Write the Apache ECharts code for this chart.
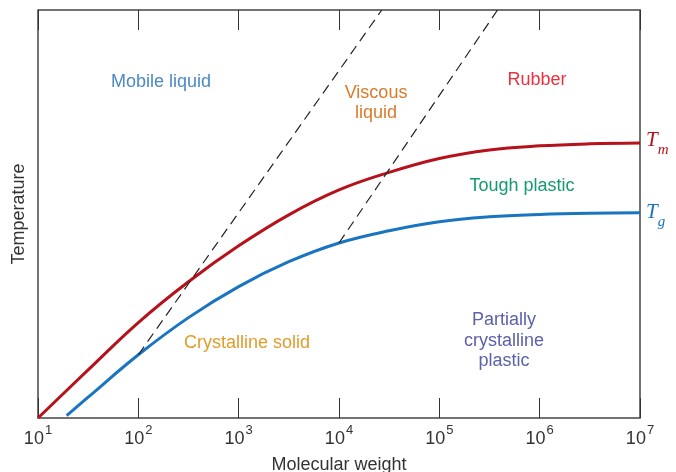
<!DOCTYPE html>
<html><head><meta charset="utf-8">
<script src="https://cdn.jsdelivr.net/npm/echarts@6/dist/echarts.min.js"></script>
<style>html,body{margin:0;padding:0;background:#fff}#c{width:676px;height:472px}</style>
</head><body><div id="c"></div>
<script>
// Melting temperature curve (Tm)
const tmX = [10, 31.6, 100, 316, 1000, 3160, 10000, 31600, 100000, 316000, 1e6, 3.16e6, 1e7];
const tmY = [0, 11.8, 23.4, 33.4, 42.2, 49.8, 55.9, 60.2, 63.6, 65.7, 66.7, 67.2, 67.4];
// Glass transition curve (Tg)
const tgX = [19.3, 31.6, 100, 316, 1000, 3160, 10000, 31600, 100000, 316000, 1e6, 3.16e6, 1e7];
const tgY = [0.6, 5.1, 15.5, 24.6, 32.2, 38.3, 42.9, 45.9, 48.1, 49.3, 49.9, 50.2, 50.3];
// Dashed boundaries
const bound1X = [100, 26700];
const bound1Y = [15.5, 100];
const bound2X = [10000, 380000];
const bound2Y = [42.9, 100];
// Region labels
const regionNames = ['Mobile liquid', 'Viscous\nliquid', 'Rubber', 'Tough plastic', 'Crystalline solid', 'Partially\ncrystalline\nplastic'];
const regionX = [168, 23400, 942000, 667000, 1211, 441000];
const regionY = [82.4, 77.2, 82.8, 56.9, 18.4, 18.9];
const regionColors = ['#4a88c6', '#d97a28', '#ee2f3f', '#159a70', '#df9c2a', '#5c61a8'];
const tickExponents = [1, 2, 3, 4, 5, 6, 7];

const FONT = 'Liberation Sans';
const zip = (xs, ys) => xs.map((x, i) => [x, ys[i]]);

const tickFmt = v => {
  const e = Math.round(Math.log10(v));
  return tickExponents.includes(e) ? '{b|10}{s|' + e + '}' : '';
};

const xBase = {
  type: 'log', logBase: 10, min: 10, max: 1e7, interval: 1,
  axisLine: { show: false },
  splitLine: { show: false },
  minorTick: { show: false },
  axisTick: { show: true, inside: true, length: 20, lineStyle: { color: '#333', width: 1 } }
};

const chart = echarts.init(document.getElementById('c'), null, { renderer: 'canvas' });
chart.setOption({
  animation: false,
  grid: { left: 38, right: 36, top: 10, bottom: 54, outerBoundsMode: 'none', containLabel: false,
          show: true, borderColor: '#444', borderWidth: 1.5, backgroundColor: 'transparent' },
  xAxis: [
    Object.assign({}, xBase, {
      position: 'bottom',
      name: 'Molecular weight', nameLocation: 'middle', nameGap: 38,
      nameTextStyle: { fontFamily: FONT, fontSize: 18, color: '#333' },
      axisLabel: {
        show: true, margin: 6, formatter: tickFmt,
        rich: {
          b: { fontFamily: FONT, fontSize: 18, color: '#333', lineHeight: 24, verticalAlign: 'bottom' },
          s: { fontFamily: FONT, fontSize: 13, color: '#333', lineHeight: 24, verticalAlign: 'top', padding: [0, 0, 0, 1] }
        }
      }
    }),
    Object.assign({}, xBase, { position: 'top', axisLabel: { show: false } })
  ],
  yAxis: {
    type: 'value', min: 0, max: 100,
    axisLine: { show: false }, axisTick: { show: false }, axisLabel: { show: false }, splitLine: { show: false },
    name: 'Temperature', nameLocation: 'middle', nameGap: 10, nameRotate: 90,
    nameTextStyle: { fontFamily: FONT, fontSize: 18, color: '#333' }
  },
  series: [
    {
      type: 'line', data: zip(tmX, tmY), smooth: 0.4, showSymbol: false, silent: true,
      lineStyle: { color: '#b5121b', width: 3 },
      endLabel: {
        show: true, distance: 6, offset: [0, 1], formatter: '{t|T}{s|m}',
        rich: {
          t: { fontFamily: 'Liberation Serif', fontStyle: 'italic', fontSize: 21, color: '#b5121b', lineHeight: 28, verticalAlign: 'top' },
          s: { fontFamily: 'Liberation Serif', fontStyle: 'italic', fontSize: 15, color: '#b5121b', lineHeight: 28, verticalAlign: 'bottom' }
        }
      }
    },
    {
      type: 'line', data: zip(tgX, tgY), smooth: 0.4, showSymbol: false, silent: true,
      lineStyle: { color: '#1a75c0', width: 3 },
      endLabel: {
        show: true, distance: 6, offset: [0, 3], formatter: '{t|T}{s|g}',
        rich: {
          t: { fontFamily: 'Liberation Serif', fontStyle: 'italic', fontSize: 21, color: '#1a75c0', lineHeight: 28, verticalAlign: 'top' },
          s: { fontFamily: 'Liberation Serif', fontStyle: 'italic', fontSize: 15, color: '#1a75c0', lineHeight: 28, verticalAlign: 'bottom' }
        }
      }
    },
    {
      type: 'line', data: zip(bound1X, bound1Y), showSymbol: false, silent: true,
      lineStyle: { color: '#222', width: 1.2, type: [10, 6] }
    },
    {
      type: 'line', data: zip(bound2X, bound2Y), showSymbol: false, silent: true,
      lineStyle: { color: '#222', width: 1.2, type: [10, 6] }
    },
    {
      type: 'scatter', silent: true, symbolSize: 1, itemStyle: { color: 'rgba(0,0,0,0)', opacity: 1 },
      data: regionNames.map((n, i) => ({
        value: [regionX[i], regionY[i]],
        label: {
          show: true, position: 'inside', formatter: n, color: regionColors[i], opacity: 1,
          fontFamily: FONT, fontSize: 18, lineHeight: 20.5, align: 'center', verticalAlign: 'middle'
        }
      }))
    }
  ]
});
</script></body></html>
